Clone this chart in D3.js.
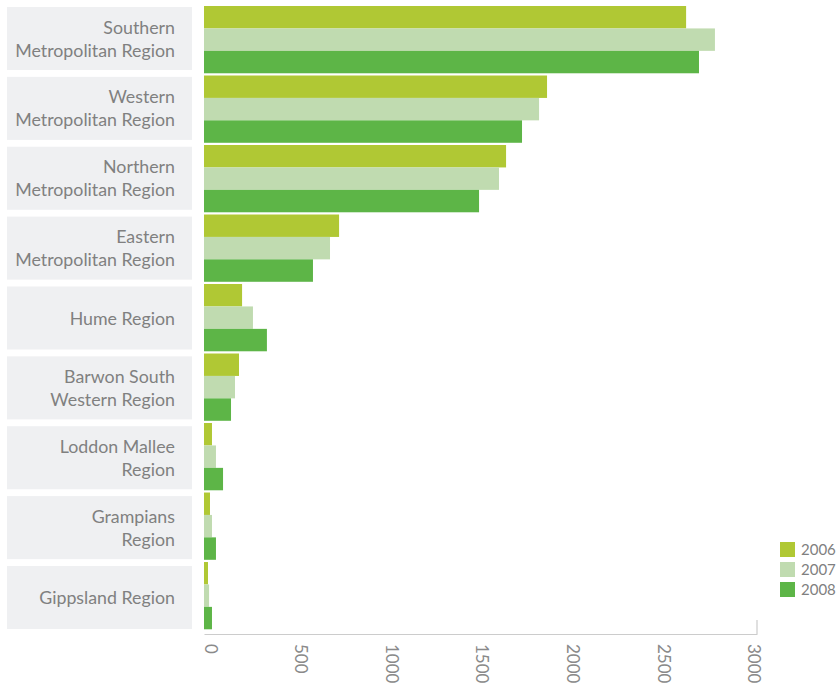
<!DOCTYPE html>
<html>
<head>
<meta charset="utf-8">
<script src="https://cdn.jsdelivr.net/npm/d3@7/dist/d3.min.js"></script>
<style>
  html, body { margin: 0; padding: 0; background: #fff; }
  svg { display: block; }
  text { font-family: Lato, "Open Sans", sans-serif; }
</style>
</head>
<body>
<svg id="chart" width="838" height="687"></svg>
<script>
// Regions (label lines) top to bottom
const regions = [
  ["Southern", "Metropolitan Region"],
  ["Western", "Metropolitan Region"],
  ["Northern", "Metropolitan Region"],
  ["Eastern", "Metropolitan Region"],
  ["Hume Region"],
  ["Barwon South", "Western Region"],
  ["Loddon Mallee", "Region"],
  ["Grampians", "Region"],
  ["Gippsland Region"]
];
const years = ["2006", "2007", "2008"];
const values2006 = [2659, 1892, 1666, 745, 210, 193, 44, 33, 22];
const values2007 = [2818, 1848, 1627, 695, 270, 171, 66, 44, 28];
const values2008 = [2730, 1754, 1517, 601, 347, 149, 105, 66, 44];
const tickValues = [0, 500, 1000, 1500, 2000, 2500, 3000];
const colors = ["#b0c834", "#c0dbb0", "#5db547"];

const series = [values2006, values2007, values2008];
const ids = regions.map((r, i) => "r" + i);

const svg = d3.select("#chart");

const x = d3.scaleLinear().domain([0, 3050]).range([204, 757]);

// band scale for bar groups
const y = d3.scaleBand().domain(ids).range([6, 629.3]).paddingInner(0.032).paddingOuter(0);
const ySub = d3.scaleBand().domain(years).range([0, y.bandwidth()]);

// band scale for the grey label panels
const yBox = d3.scaleBand().domain(ids).range([7, 629]).paddingInner(0.098).paddingOuter(0);

// label panels
const panels = svg.append("g").selectAll("g").data(regions).join("g")
  .attr("transform", (d, i) => `translate(0,${yBox(ids[i])})`);

panels.append("rect")
  .attr("x", 7).attr("width", 185)
  .attr("height", yBox.bandwidth())
  .attr("fill", "#eff0f2");

const lineGap = 23;
panels.append("text")
  .attr("text-anchor", "end")
  .attr("fill", "#808080")
  .style("font-size", "17.8px")
  .selectAll("tspan").data(d => d.map((t, j) => ({ t, j, n: d.length })))
  .join("tspan")
  .attr("x", 175)
  .attr("y", d => yBox.bandwidth() / 2 + 6.6 + (d.j - (d.n - 1) / 2) * lineGap)
  .text(d => d.t);

// bars
const groups = svg.append("g").selectAll("g").data(ids).join("g")
  .attr("transform", id => `translate(0,${y(id)})`);

groups.selectAll("rect")
  .data((id, i) => years.map((yr, k) => ({ yr, k, v: series[k][i] })))
  .join("rect")
  .attr("x", x(0))
  .attr("y", d => ySub(d.yr))
  .attr("height", ySub.bandwidth())
  .attr("width", d => x(d.v) - x(0))
  .attr("fill", d => colors[d.k]);

// value axis
const axisY = 634;
const axis = d3.axisBottom(x).tickValues(tickValues).tickFormat(d3.format("d"))
  .tickSize(0).tickSizeOuter(0).tickPadding(0);
const gAxis = svg.append("g").attr("transform", `translate(0,${axisY})`).call(axis);
gAxis.select(".domain").attr("stroke", "#cccccc").attr("stroke-width", 1.2);
gAxis.selectAll(".tick text")
  .attr("transform", "rotate(90)")
  .attr("x", 10).attr("y", 0).attr("dy", 0)
  .attr("text-anchor", "start")
  .attr("fill", "#8a8a8a")
  .style("font-family", "Lato, 'Open Sans', sans-serif")
  .style("font-size", "17px");
gAxis.append("line")
  .attr("x1", x.range()[1]).attr("x2", x.range()[1])
  .attr("y1", 0).attr("y2", -14)
  .attr("stroke", "#cccccc").attr("stroke-width", 1.2);

// legend
const legend = svg.append("g").attr("transform", "translate(780,542)");
const items = legend.selectAll("g").data(years).join("g")
  .attr("transform", (d, i) => `translate(0,${i * 20})`);
items.append("rect").attr("width", 15).attr("height", 15).attr("fill", (d, i) => colors[i]);
items.append("text").attr("x", 21).attr("y", 13)
  .attr("fill", "#808080").style("font-size", "15px").text(d => d);
</script>
</body>
</html>
